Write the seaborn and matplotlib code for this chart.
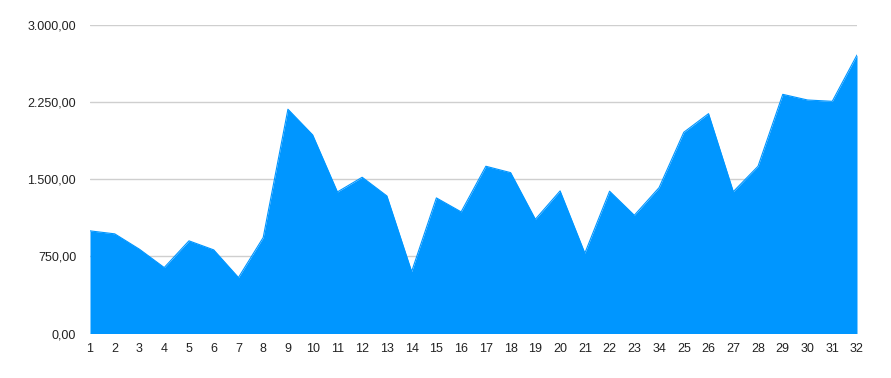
import matplotlib
matplotlib.use("Agg")
import matplotlib.pyplot as plt
import seaborn as sns
import numpy as np
import pandas as pd
from matplotlib.ticker import FuncFormatter

labels = ["1", "2", "3", "4", "5", "6", "7", "8", "9", "10", "11", "12", "13", "14", "15", "16",
          "17", "18", "19", "20", "21", "22", "23", "34", "25", "26", "27", "28", "29", "30", "31", "32"]
values = [999, 970, 820, 642, 902, 814, 545, 934, 2183, 1933, 1378, 1521, 1339, 603, 1320, 1184,
          1628, 1566, 1112, 1388, 782, 1385, 1151, 1420, 1959, 2140, 1381, 1628, 2328, 2273, 2260, 2711]
yticks = [0, 750, 1500, 2250, 3000]

sns.set_theme(style="white")
plt.rcParams['font.family'] = ['Liberation Sans', 'DejaVu Sans']

df = pd.DataFrame({"pos": np.arange(len(labels)), "value": values})

fig = plt.figure(figsize=(8.91, 3.78), dpi=100)
ax = fig.add_axes([90/891, 44.5/378, (857-90)/891, (333.5-25.3)/378])

color = "#0096FF"
sns.lineplot(data=df, x="pos", y="value", ax=ax, color=color, linewidth=0.8, zorder=3)
ax.fill_between(df["pos"], 0, df["value"], color=color, linewidth=0, zorder=3)

ax.set_xlim(0, len(labels) - 1)
ax.set_ylim(0, 3000)
ax.set_yticks(yticks)
ax.yaxis.set_major_formatter(FuncFormatter(
    lambda v, p: f"{v:,.2f}".replace(",", "X").replace(".", ",").replace("X", ".")))
ax.set_xticks(df["pos"])
ax.set_xticklabels(labels)
ax.grid(axis="y", color="#cfcfcf", linewidth=1.0, zorder=0)
ax.grid(axis="x", visible=False)
for s in ax.spines.values():
    s.set_visible(False)
ax.tick_params(axis="y", length=0, pad=10, labelsize=9, labelcolor="#222222")
ax.tick_params(axis="x", length=0, pad=7, labelsize=9, labelcolor="#222222")
ax.set_xlabel("")
ax.set_ylabel("")

fig.savefig("out.png", dpi=100)
